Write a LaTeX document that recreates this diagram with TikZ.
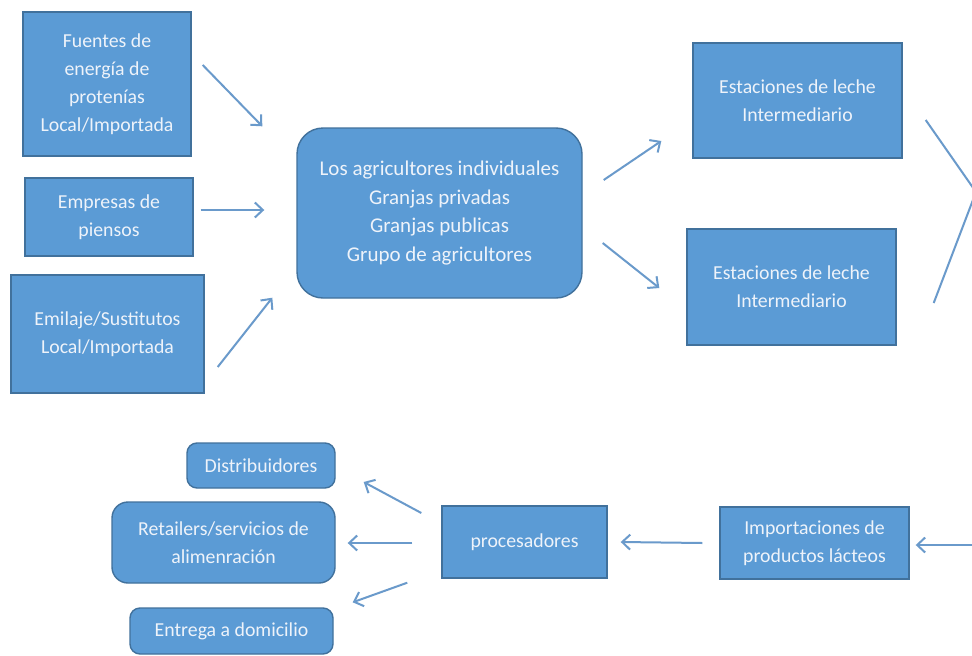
\documentclass[tikz,border=0pt]{standalone}
\usepackage{fontspec}
\setmainfont{Carlito}
\usetikzlibrary{arrows.meta}
\definecolor{boxfill}{HTML}{5B9BD5}
\definecolor{boxline}{HTML}{41719C}
\definecolor{arrcol}{HTML}{6A9ACB}
\definecolor{txtcol}{HTML}{EEF3FA}
\tikzset{
  box/.style={draw=boxline, line width=1.4pt, fill=boxfill, text=txtcol, align=center,
    inner sep=0pt, font=\fontsize{19.8}{28}\selectfont},
  rbox/.style={box, rounded corners=#1},
  arr/.style={draw=arrcol, line width=2pt, -{Straight Barb[length=8pt,width=15pt,line width=2pt]}},
  conn/.style={draw=arrcol, line width=2pt}
}
\begin{document}
\begin{tikzpicture}[x=1pt,y=-1pt]
\path[use as bounding box, fill=white] (0,0) rectangle (972,656);
\clip (0,0) rectangle (972,656);
% left inputs
\node[box, minimum width=168pt, minimum height=144pt] (fuentes) at (107,84)
  {Fuentes de\\energía de\\protenías\\Local/Importada};
\node[box, minimum width=168pt, minimum height=78pt] (empresas) at (109,217)
  {Empresas de\\piensos};
\node[box, minimum width=193pt, minimum height=118pt] (ensilaje) at (107.5,334)
  {Emilaje/Sustitutos\\Local/Importada};
% center
\node[rbox=26pt, minimum width=285pt, minimum height=170pt, font=\fontsize{21}{28.5}\selectfont] (agric) at (439.5,213)
  {Los agricultores individuales\\Granjas privadas\\Granjas publicas\\Grupo de agricultores};
% stations
\node[box, minimum width=209pt, minimum height=115pt] (est1) at (797.5,100.5)
  {Estaciones de leche\\Intermediario};
\node[box, minimum width=209pt, minimum height=116pt] (est2) at (791.5,287)
  {Estaciones de leche\\Intermediario};
% bottom row
\node[box, minimum width=189pt, minimum height=72pt] (import) at (814.5,543)
  {Importaciones de\\productos lácteos};
\node[box, minimum width=165pt, minimum height=72pt] (proc) at (524.5,542)
  {procesadores};
\node[rbox=10pt, minimum width=148pt, minimum height=45pt] (distrib) at (261,465.5)
  {Distribuidores};
\node[rbox=16pt, minimum width=223pt, minimum height=81pt] (retail) at (223.5,542.5)
  {Retailers/servicios de\\alimenración};
\node[rbox=10pt, minimum width=203pt, minimum height=46pt] (entrega) at (231.5,631)
  {Entrega a domicilio};
% off-picture points
\coordinate (join) at (976,192);
\coordinate (src) at (976,545);
% connectors
\draw[arr] ([xshift=11pt,yshift=19pt]fuentes.east) -- ([xshift=-34pt,yshift=1pt]agric.north west);
\draw[arr] ([xshift=7pt,yshift=7pt]empresas.east) -- ([xshift=-32pt,yshift=3pt]agric.west);
\draw[arr] ([xshift=13pt,yshift=-33pt]ensilaje.east) -- ([xshift=-24pt,yshift=1pt]agric.south west);
\draw[arr] ([xshift=21pt,yshift=33pt]agric.east) -- ([xshift=-31pt,yshift=-40.5pt]est1.west);
\draw[arr] ([xshift=20pt,yshift=-30pt]agric.east) -- ([xshift=-27pt,yshift=-1pt]est2.west);
\draw[conn] ([xshift=23pt,yshift=-19.5pt]est1.east) -- (join) -- ([xshift=37pt,yshift=-16pt]est2.east);
\draw[arr] (src) -- ([xshift=6pt,yshift=-2pt]import.east);
\draw[arr] ([xshift=-17pt]import.west) -- ([xshift=13pt]proc.east);
\draw[arr] ([xshift=-20pt,yshift=29pt]proc.west) -- ([xshift=28pt,yshift=-16.5pt]distrib.east);
\draw[arr] ([xshift=-29pt,yshift=-1pt]proc.west) -- ([xshift=12pt,yshift=-0.5pt]retail.east);
\draw[arr] ([xshift=-34pt,yshift=-4pt]proc.south west) -- ([xshift=19pt,yshift=5pt]entrega.north east);
\end{tikzpicture}
\end{document}
